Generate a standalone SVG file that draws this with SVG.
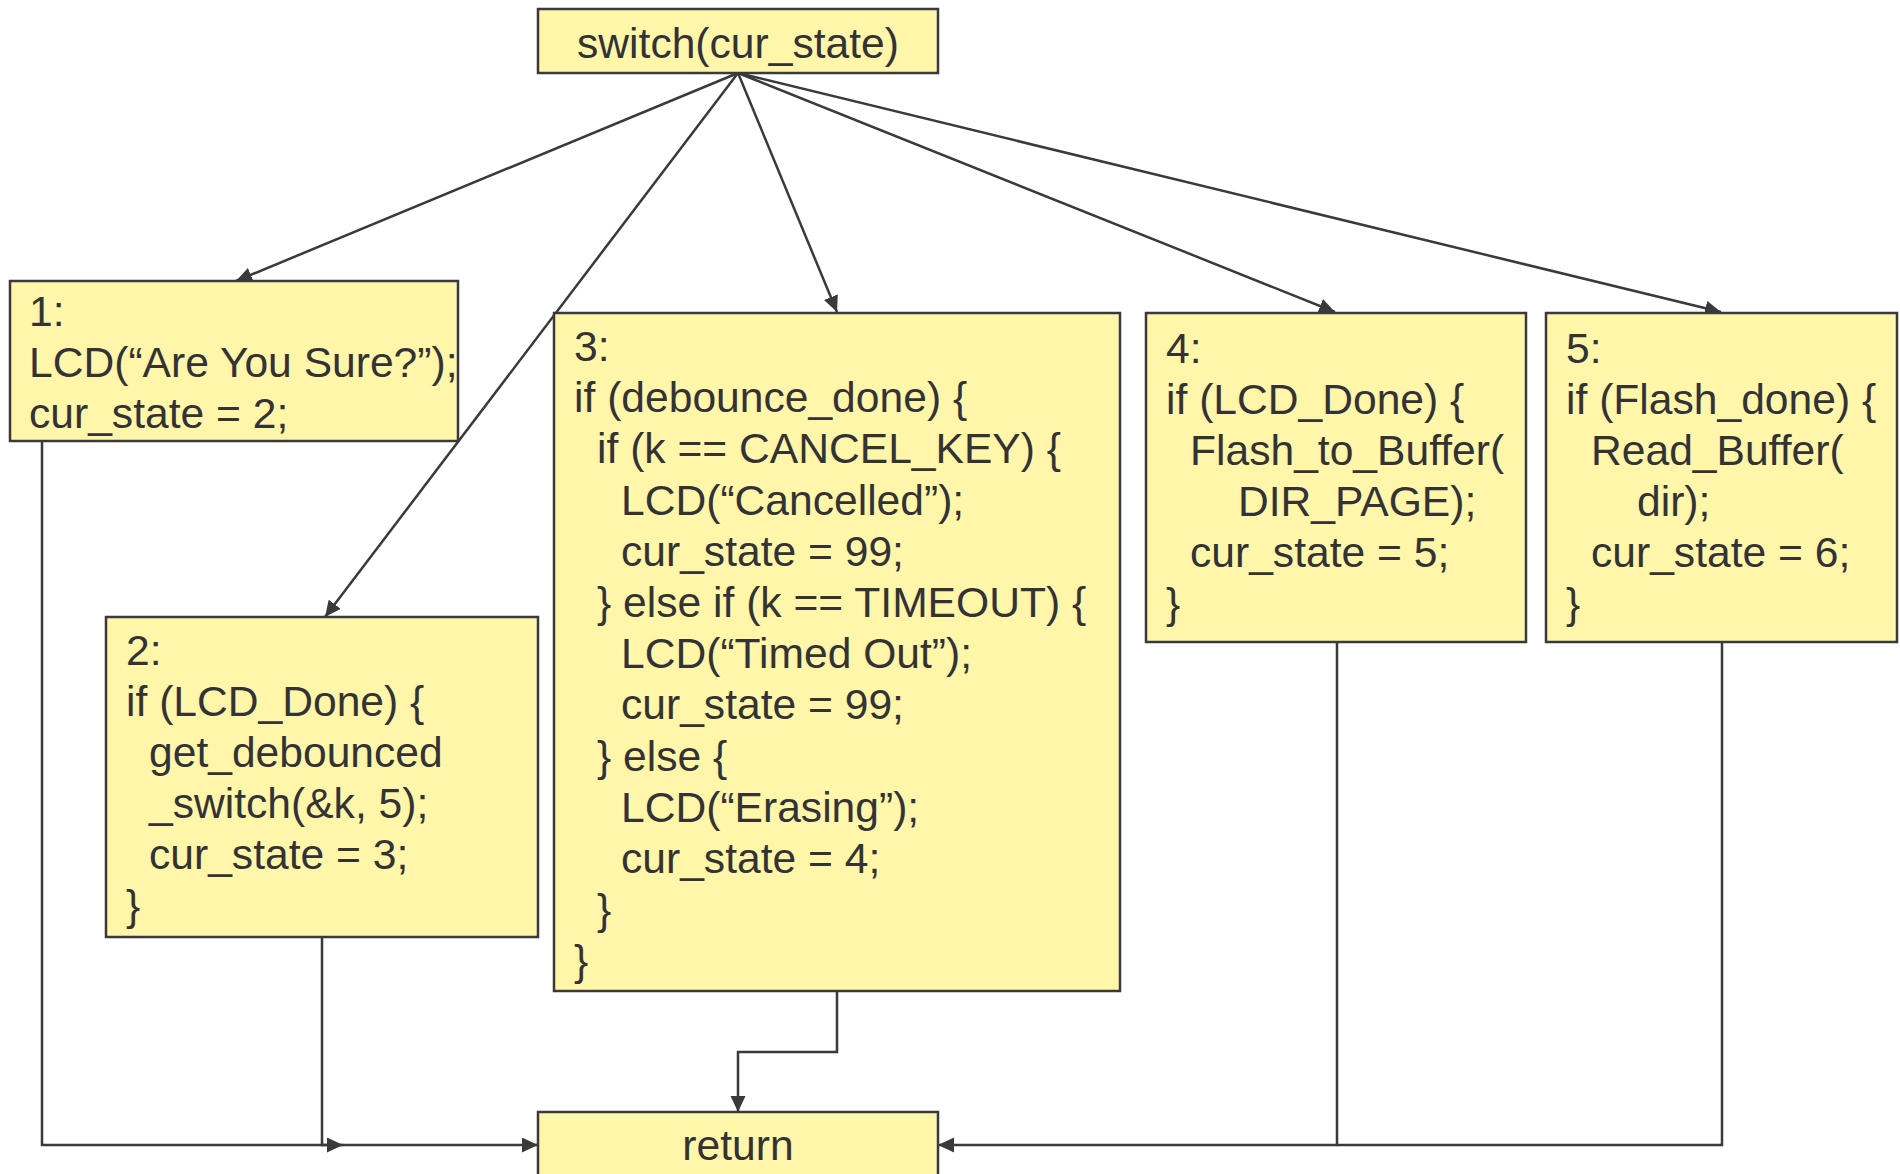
<svg xmlns="http://www.w3.org/2000/svg" width="1900" height="1174" viewBox="0 0 1900 1174">
  <defs>
    <style>
      .box { fill: #fff6aa; stroke: #3a3a3c; stroke-width: 2.5; }
      .txt { font-family: "Liberation Sans", Arial, Helvetica, sans-serif; font-size: 42.6px; fill: #333336; }
      .mid { text-anchor: middle; }
      .edge { fill: none; stroke: #3a3a3c; stroke-width: 2.5; }
    </style>
    <marker id="arrow" markerUnits="userSpaceOnUse" markerWidth="18" markerHeight="16" refX="16" refY="7.5" orient="auto">
      <path d="M0,0 L16,7.5 L0,15 Z" fill="#3a3a3c"/>
    </marker>
  </defs>

  <rect width="1900" height="1174" fill="#ffffff"/>

  <!-- connectors -->
  <g id="connectors">
    <line class="edge" x1="738" y1="73" x2="236" y2="281" marker-end="url(#arrow)"/>
    <line class="edge" x1="738" y1="73" x2="325" y2="617" marker-end="url(#arrow)"/>
    <line class="edge" x1="738" y1="73" x2="837" y2="312" marker-end="url(#arrow)"/>
    <line class="edge" x1="738" y1="73" x2="1335" y2="312" marker-end="url(#arrow)"/>
    <line class="edge" x1="738" y1="73" x2="1721" y2="312" marker-end="url(#arrow)"/>
    <path class="edge" d="M42,441 V1145 H343" marker-end="url(#arrow)"/>
    <path class="edge" d="M322,937 V1145 H538" marker-end="url(#arrow)"/>
    <path class="edge" d="M837,991 V1052 H738 V1112" marker-end="url(#arrow)"/>
    <path class="edge" d="M1337,642 V1145 H938" marker-end="url(#arrow)"/>
    <path class="edge" d="M1722,642 V1145 H1337"/>
  </g>

  <g id="switch">
    <rect class="box" x="538" y="9" width="400" height="64"/>
    <text class="txt mid" x="738" y="58">switch(cur_state)</text>
  </g>

  <g id="state1">
    <rect class="box" x="10" y="281" width="448" height="160"/>
    <text class="txt" x="29" y="326">1:</text>
    <text class="txt" x="29" y="377">LCD(“Are You Sure?”);</text>
    <text class="txt" x="29" y="428">cur_state = 2;</text>
  </g>

  <g id="state2">
    <rect class="box" x="106" y="617" width="432" height="320"/>
    <text class="txt" x="126" y="665">2:</text>
    <text class="txt" x="126" y="716">if (LCD_Done) {</text>
    <text class="txt" x="149" y="767">get_debounced</text>
    <text class="txt" x="149" y="818">_switch(&amp;k, 5);</text>
    <text class="txt" x="149" y="869">cur_state = 3;</text>
    <text class="txt" x="126" y="920">}</text>
  </g>

  <g id="state3">
    <rect class="box" x="554" y="313" width="566" height="678"/>
    <text class="txt" x="574" y="361">3:</text>
    <text class="txt" x="574" y="412">if (debounce_done) {</text>
    <text class="txt" x="597" y="463">if (k == CANCEL_KEY) {</text>
    <text class="txt" x="621" y="515">LCD(“Cancelled”);</text>
    <text class="txt" x="621" y="566">cur_state = 99;</text>
    <text class="txt" x="597" y="617">} else if (k == TIMEOUT) {</text>
    <text class="txt" x="621" y="668">LCD(“Timed Out”);</text>
    <text class="txt" x="621" y="719">cur_state = 99;</text>
    <text class="txt" x="597" y="771">} else {</text>
    <text class="txt" x="621" y="822">LCD(“Erasing”);</text>
    <text class="txt" x="621" y="873">cur_state = 4;</text>
    <text class="txt" x="597" y="924">}</text>
    <text class="txt" x="574" y="975">}</text>
  </g>

  <g id="state4">
    <rect class="box" x="1146" y="313" width="380" height="329"/>
    <text class="txt" x="1166" y="363">4:</text>
    <text class="txt" x="1166" y="414">if (LCD_Done) {</text>
    <text class="txt" x="1190" y="465">Flash_to_Buffer(</text>
    <text class="txt" x="1238" y="516">DIR_PAGE);</text>
    <text class="txt" x="1190" y="567">cur_state = 5;</text>
    <text class="txt" x="1166" y="618">}</text>
  </g>

  <g id="state5">
    <rect class="box" x="1546" y="313" width="351" height="329"/>
    <text class="txt" x="1566" y="363">5:</text>
    <text class="txt" x="1566" y="414">if (Flash_done) {</text>
    <text class="txt" x="1591" y="465">Read_Buffer(</text>
    <text class="txt" x="1637" y="516">dir);</text>
    <text class="txt" x="1591" y="567">cur_state = 6;</text>
    <text class="txt" x="1566" y="618">}</text>
  </g>

  <g id="return">
    <rect class="box" x="538" y="1112" width="400" height="80"/>
    <text class="txt mid" x="738" y="1160">return</text>
  </g>
</svg>
